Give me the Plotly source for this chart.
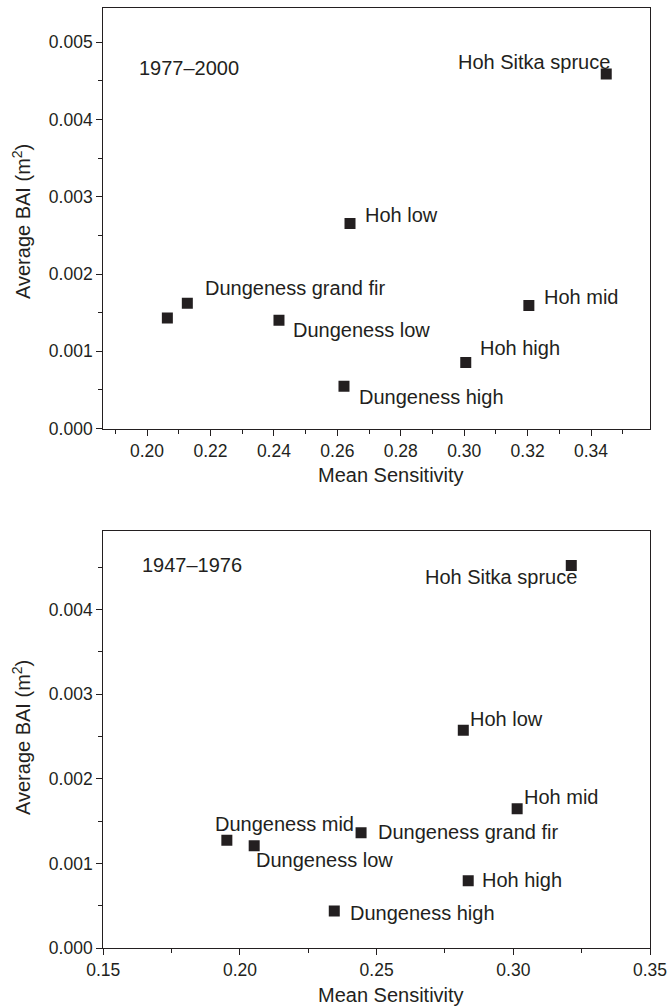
import plotly.graph_objects as go

# ---- data: 1977-2000 panel ----
sites_top = ["Hoh Sitka spruce", "Hoh low", "Dungeness grand fir", "Dungeness mid",
             "Dungeness low", "Hoh mid", "Hoh high", "Dungeness high"]
ms_top = [0.3448, 0.2640, 0.2127, 0.2064, 0.2416, 0.3204, 0.3005, 0.2621]
bai_top = [0.00459, 0.002655, 0.001623, 0.00143, 0.00140, 0.001594, 0.000854, 0.000548]
shown_top = [True, True, True, False, True, True, True, True]

# ---- data: 1947-1976 panel ----
sites_bot = ["Hoh Sitka spruce", "Hoh low", "Hoh mid", "Dungeness mid",
             "Dungeness grand fir", "Dungeness low", "Hoh high", "Dungeness high"]
ms_bot = [0.3212, 0.2817, 0.3014, 0.1952, 0.2443, 0.2052, 0.2835, 0.2345]
bai_bot = [0.00452, 0.002574, 0.001646, 0.001277, 0.001363, 0.00121, 0.000797, 0.00044]

period_top = "1977\u20132000"
period_bot = "1947\u20131976"
x_title = "Mean Sensitivity"
y_title = "Average BAI (m<sup>2</sup>)"

# label placement (style): xanchor, xshift, yshift in px
place_top = [("right", 6, 11.7), ("left", 12.7, 8.7), ("left", 15.4, 15.4), ("left", 0, 0),
             ("left", 12, -10), ("left", 12.7, 8.3), ("left", 12.7, 15), ("left", 12.7, -10.7)]
place_bot = [("right", 8, -11.7), ("left", 5, 11.7), ("left", 5, 12), ("left", -13.7, 16),
             ("left", 15, 1), ("left", 0.3, -14.3), ("left", 11.3, 0.7), ("left", 14, -2)]

INK = "#231f20"
FONT = "Liberation Sans, Arial, sans-serif"
W, H = 672, 1007

fig = go.Figure()
mk = dict(symbol="square", size=11, color=INK, line=dict(width=0))
fig.add_trace(go.Scatter(x=ms_top, y=bai_top, mode="markers", marker=mk,
                         xaxis="x", yaxis="y", showlegend=False, hoverinfo="skip"))
fig.add_trace(go.Scatter(x=ms_bot, y=bai_bot, mode="markers", marker=mk,
                         xaxis="x2", yaxis="y2", showlegend=False, hoverinfo="skip"))

ann = []
for name, x, y, show, (xa, xs, ys) in zip(sites_top, ms_top, bai_top, shown_top, place_top):
    if show:
        ann.append(dict(x=x, y=y, xref="x", yref="y", text=name, showarrow=False,
                        xanchor=xa, yanchor="middle", xshift=xs, yshift=ys,
                        font=dict(size=20, color=INK, family=FONT)))
for name, x, y, (xa, xs, ys) in zip(sites_bot, ms_bot, bai_bot, place_bot):
    ann.append(dict(x=x, y=y, xref="x2", yref="y2", text=name, showarrow=False,
                    xanchor=xa, yanchor="middle", xshift=xs, yshift=ys,
                    font=dict(size=20, color=INK, family=FONT)))

ann.append(dict(x=0.0625, y=0.858, xref="x domain", yref="y domain", text=period_top,
                showarrow=False, xanchor="left", yanchor="middle",
                font=dict(size=20, color=INK, family=FONT)))
ann.append(dict(x=0.067, y=0.918, xref="x2 domain", yref="y2 domain", text=period_bot,
                showarrow=False, xanchor="left", yanchor="middle",
                font=dict(size=20, color=INK, family=FONT)))

for yc in (1 - 475 / H, 1 - 995 / H):
    ann.append(dict(x=391 / W, y=yc, xref="paper", yref="paper", text=x_title,
                    showarrow=False, xanchor="center", yanchor="middle",
                    font=dict(size=20, color=INK, family=FONT)))
for yc in (1 - 222 / H, 1 - 738 / H):
    ann.append(dict(x=21 / W, y=yc, xref="paper", yref="paper", text=y_title,
                    showarrow=False, xanchor="center", yanchor="middle", textangle=-90,
                    font=dict(size=20, color=INK, family=FONT)))

xdom = [103.3 / W, 650 / W]
ydom_top = [1 - 428.5 / H, 1 - 8.3 / H]
ydom_bot = [1 - 948.3 / H, 1 - 530.7 / H]

axcommon = dict(showline=True, linecolor=INK, linewidth=1.3, mirror=True,
                showgrid=False, zeroline=False, ticks="outside", ticklen=6,
                tickwidth=1.1, tickcolor=INK, automargin=False,
                tickfont=dict(size=17.5, color=INK, family=FONT))

fig.update_layout(
    width=W, height=H,
    margin=dict(l=0, r=0, t=0, b=0),
    paper_bgcolor="white", plot_bgcolor="white",
    font=dict(family=FONT, color=INK),
    xaxis=dict(domain=xdom, anchor="y", range=[0.1862, 0.3586],
               tickmode="linear", tick0=0.20, dtick=0.02, tickformat=".2f",
               minor=dict(ticks="outside", tick0=0.19, dtick=0.02, ticklen=4,
                          tickcolor=INK, tickwidth=1.1),
               **axcommon),
    yaxis=dict(domain=ydom_top, anchor="x", range=[0, 0.00544],
               tickmode="linear", tick0=0, dtick=0.001, tickformat=".3f",
               minor=dict(ticks="outside", tick0=0.0005, dtick=0.001, ticklen=4,
                          tickcolor=INK, tickwidth=1.1),
               **axcommon),
    xaxis2=dict(domain=xdom, anchor="y2", range=[0.15, 0.35],
                tickmode="linear", tick0=0.15, dtick=0.05, tickformat=".2f",
                minor=dict(ticks="outside", tick0=0.175, dtick=0.05, ticklen=4,
                           tickcolor=INK, tickwidth=1.1),
                **axcommon),
    yaxis2=dict(domain=ydom_bot, anchor="x2", range=[0, 0.00493],
                tickmode="linear", tick0=0, dtick=0.001, tickformat=".3f",
                minor=dict(ticks="outside", tick0=0.0005, dtick=0.001, ticklen=4,
                           tickcolor=INK, tickwidth=1.1),
                **axcommon),
    annotations=ann,
)

fig.write_html(
    "out.html",
    config={"displayModeBar": False},
    post_script="document.body.style.margin='0';document.body.style.overflow='hidden';",
)
